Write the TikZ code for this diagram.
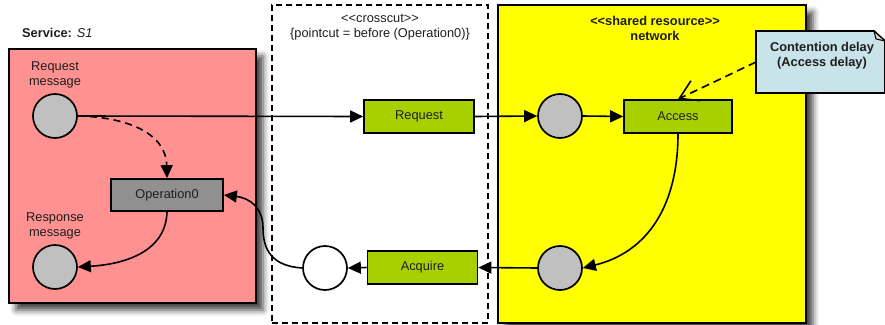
\documentclass[tikz,border=0pt]{standalone}
\usepackage{fontspec}
\setmainfont{Liberation Sans}
\usetikzlibrary{arrows.meta,shadows.blur}
\definecolor{svcpink}{RGB}{255,145,145}
\definecolor{resyellow}{RGB}{255,255,0}
\definecolor{actgreen}{RGB}{168,208,0}
\definecolor{opgray}{RGB}{144,144,144}
\definecolor{tokengray}{RGB}{192,192,192}
\definecolor{notefill}{RGB}{200,228,234}
\definecolor{inktext}{RGB}{30,30,30}
\begin{document}
\begin{tikzpicture}[x=1pt,y=-1pt,
  font=\fontsize{12.8}{15}\selectfont, text=inktext,
  region/.style={draw=black, line width=1.7pt, inner sep=0pt},
  softshadow/.style={blur shadow={shadow xshift=7pt, shadow yshift=-7pt, shadow blur radius=6pt, shadow opacity=75}},
  actbox/.style={draw=black, line width=1.7pt, fill=actgreen, inner sep=0pt,
    minimum width=110pt, minimum height=33pt},
  token/.style={circle, draw=black, line width=1.7pt, fill=tokengray, minimum size=44pt, inner sep=0pt},
  flow/.style={line width=1.6pt, -{Triangle[length=13pt,width=12pt]}},
  lbl/.style={align=center, inner sep=0pt}
]
\useasboundingbox (0,0) rectangle (885,324);

% containers
\node[region, fill=svcpink, softshadow, minimum width=247pt, minimum height=254pt] (svc) at (132.5,176) {};
\node[region, fill=resyellow, softshadow, minimum width=308pt, minimum height=318pt] (net) at (652,164) {};
\node[draw=black, line width=1.6pt, dash pattern=on 6pt off 4pt, inner sep=0pt,
      minimum width=216pt, minimum height=318pt] (cut) at (380,164) {};

% container titles
\node[anchor=west, inner sep=0pt] (svctitle) at (22,33) {\textbf{Service:} \textit{S1}};
\node[lbl] (cuttitle) at (380,27) {<{}<crosscut>{}>\\\{pointcut = before (Operation0)\}};
\node[lbl, font=\fontsize{12.8}{15}\selectfont\bfseries] (nettitle) at (655,28) {<{}<shared resource>{}>\\network};

% service side
\node[lbl] (reqlbl) at (55,75) {Request\\message};
\node[token] (reqmsg) at (55,116) {};
\node[lbl] (resplbl) at (55,226) {Response\\message};
\node[token] (respmsg) at (55,267) {};
\node[draw=black, line width=1.7pt, fill=opgray, inner sep=0pt,
      minimum width=112pt, minimum height=32pt] (op) at (167,195) {Operation0};

% crosscut actions
\node[actbox] (request) at (419,116.5) {Request};
\node[actbox] (acquire) at (422.5,267.5) {Acquire};
\node[token, fill=white] (wait) at (325,268) {};

% shared resource
\node[token] (in) at (560,116) {};
\node[token] (out) at (560,268) {};
\node[actbox, minimum width=108pt] (access) at (678,116.5) {Access};

% note
\path[draw=black, line width=1.7pt, fill=notefill]
  (756,31) -- (874,31) -- (885,41) -- (885,93) -- (756,93) -- cycle;
\path[draw=black, line width=1pt, fill=tokengray!70]
  (874,31) -- (876,39) -- (885,41) -- cycle;
\node[lbl, font=\fontsize{12.8}{15}\selectfont\bfseries] (note) at (822,56) {Contention delay\\(Access delay)};
\coordinate (noteedge) at (756,62);

% connectors
\draw[flow] (reqmsg.east) -- (request.west);
\draw[flow, dash pattern=on 7pt off 5pt] (reqmsg.east) .. controls (125,117) and (166,132) .. (op.north);
\draw[flow] (op.south) .. controls (166,250) and (128,264) .. (respmsg.east);
\draw[flow] (request.east) -- (in.west);
\draw[flow] (in.east) -- (access.west);
\draw[flow] (access.south) .. controls (678,205) and (648,252) .. (out.east);
\draw[flow] (out.west) -- (acquire.east);
\draw[flow] (acquire.west) -- (wait.east);
\draw[flow] (wait.west) .. controls (272,266) and (263,250) .. (263,228)
  .. controls (263,208) and (250,198) .. (op.east);
\draw[line width=1.6pt, dash pattern=on 8pt off 5pt,
      -{Straight Barb[length=18pt,width=22pt,line width=1.6pt]}] (noteedge) -- (access.north);
\end{tikzpicture}
\end{document}
